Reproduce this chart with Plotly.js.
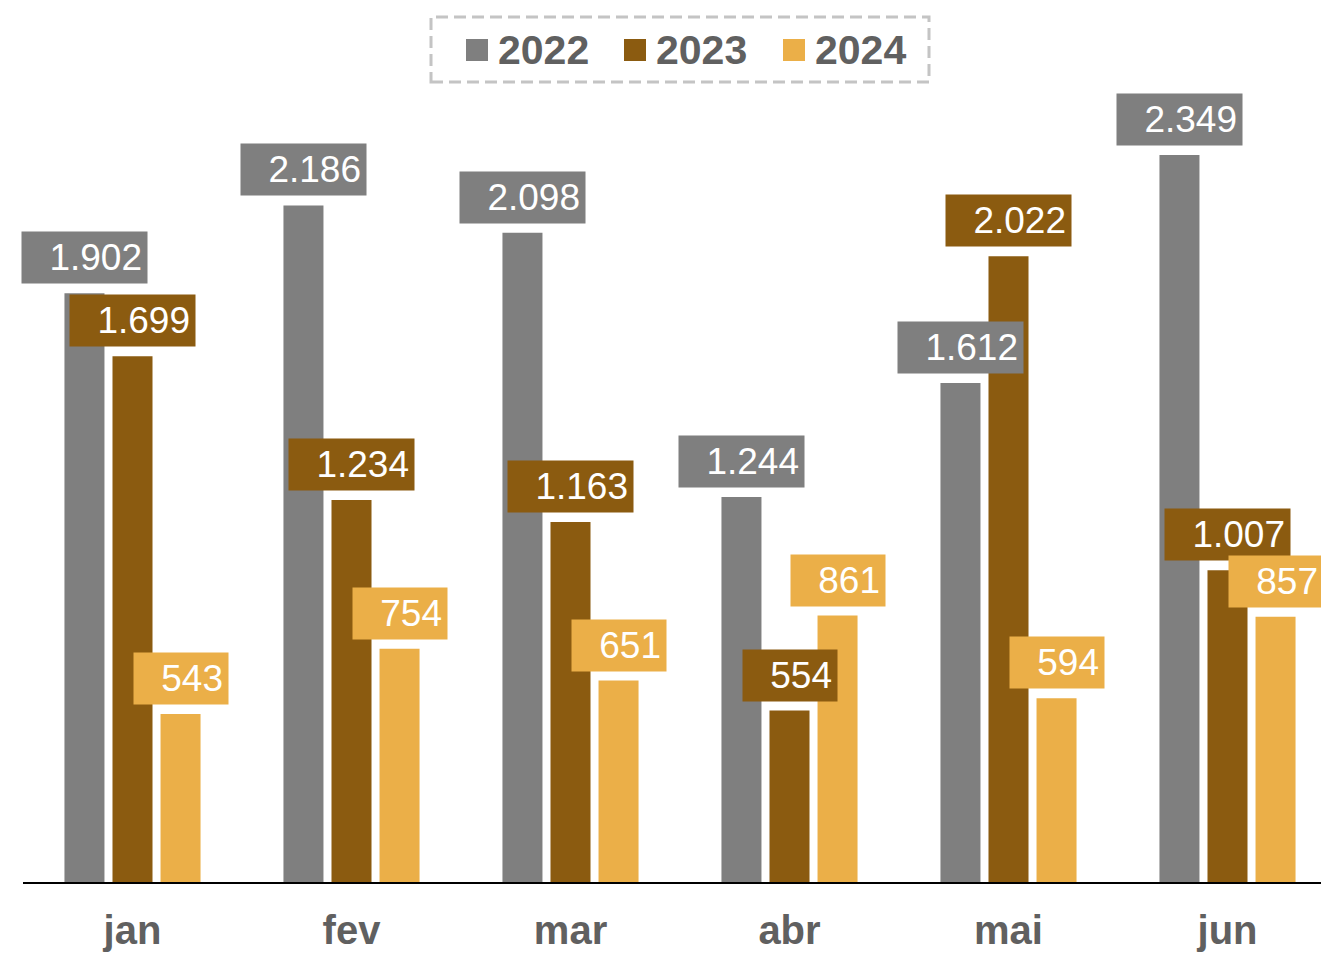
<!DOCTYPE html>
<html>
<head>
<meta charset="utf-8">
<script src="https://cdn.plot.ly/plotly-3.0.1.min.js"></script>
<style>html,body{margin:0;padding:0;background:#fff;}#chart{width:1321px;height:954px;}</style>
</head>
<body>
<div id="chart"></div>
<script>
const months = ["jan", "fev", "mar", "abr", "mai", "jun"];
const seriesNames = ["2022", "2023", "2024"];
const values2022 = [1902, 2186, 2098, 1244, 1612, 2349];
const values2023 = [1699, 1234, 1163, 554, 2022, 1007];
const values2024 = [543, 754, 651, 861, 594, 857];
const colors = ["#7F7F7F", "#8B5B10", "#EBAF48"];

const allValues = [values2022, values2023, values2024];
const FONT = "Liberation Sans, Arial, sans-serif";
const bargap = 0.342, bargroupgap = 0.167;

function fmt(v) {
  return String(v).replace(/\B(?=(\d{3})+(?!\d))/g, ".");
}
function textW(s, size) {
  let w = 0;
  for (const c of s) w += (c === "." ? 0.278 : 0.556) * size;
  return w;
}

const traces = allValues.map((vals, i) => ({
  type: "bar",
  name: seriesNames[i],
  x: months,
  y: vals,
  marker: {color: colors[i]},
  showlegend: false,
  hoverinfo: "x+y+name"
}));

const slot = (1 - bargap) / 3;
const annotations = [];
const labelSize = 37;
allValues.forEach((vals, i) => {
  vals.forEach((v, j) => {
    const t = fmt(v);
    annotations.push({
      x: j + (i - 1) * slot,
      y: v,
      xref: "x", yref: "y",
      text: t,
      showarrow: false,
      xanchor: "center",
      yanchor: "bottom",
      yshift: 9,
      bgcolor: colors[i],
      borderpad: 5,
      width: Math.round(textW(t, labelSize) + 22),
      height: 41,
      align: "right",
      font: {family: FONT, size: labelSize, color: "#FFFFFF"}
    });
  });
});

// Legend drawn manually (dashed border box)
const L = 23, PW = 1298, T = 10, PH = 872;
const px = x => (x - L) / PW;
const py = y => (T + PH - y) / PH;
const shapes = [{
  type: "rect", xref: "paper", yref: "paper",
  x0: px(431), x1: px(929), y0: py(82), y1: py(17),
  line: {color: "#C4C4C4", width: 3, dash: "12px,6px"},
  fillcolor: "rgba(0,0,0,0)"
}];
const legendSq = [466, 624, 783];
const legendTx = [496, 654, 813];
seriesNames.forEach((n, i) => {
  shapes.push({
    type: "rect", xref: "paper", yref: "paper",
    x0: px(legendSq[i]), x1: px(legendSq[i] + 22), y0: py(61), y1: py(39),
    line: {width: 0}, fillcolor: colors[i]
  });
  annotations.push({
    xref: "paper", yref: "paper",
    x: px(legendTx[i]), y: py(50),
    xanchor: "left", yanchor: "middle",
    text: n, showarrow: false,
    font: {family: FONT, size: 41, color: "#606060", weight: "bold"}
  });
});

const layout = {
  width: 1321, height: 954,
  margin: {l: L, r: 0, t: T, b: 954 - T - PH},
  paper_bgcolor: "#FFFFFF",
  plot_bgcolor: "#FFFFFF",
  barmode: "group",
  bargap: bargap,
  bargroupgap: bargroupgap,
  showlegend: false,
  xaxis: {
    type: "category",
    range: [-0.5, -0.5 + PW / 219],
    showline: true, linecolor: "#000000", linewidth: 2,
    showgrid: false, zeroline: false, ticks: "",
    ticklabelstandoff: 12,
    tickfont: {family: FONT, size: 40, color: "#606060", weight: "bold"}
  },
  yaxis: {
    range: [0, PH / 0.3095],
    visible: false, showgrid: false, zeroline: false
  },
  annotations: annotations,
  shapes: shapes
};

Plotly.newPlot("chart", traces, layout, {displayModeBar: false, staticPlot: true});
</script>
</body>
</html>
